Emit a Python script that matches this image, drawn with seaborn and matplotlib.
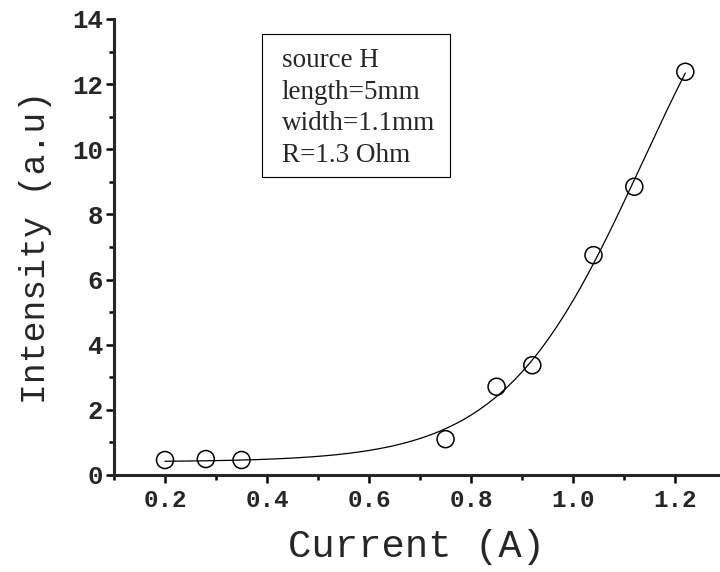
import numpy as np
import pandas as pd
import matplotlib
matplotlib.use("Agg")
import matplotlib.pyplot as plt
from matplotlib.patches import Rectangle
from matplotlib.ticker import MultipleLocator
import seaborn as sns

# Measured intensity vs. drive current
current = [0.20, 0.28, 0.35, 0.75, 0.85, 0.92, 1.04, 1.12, 1.22]
intensity = [0.46, 0.49, 0.46, 1.10, 2.71, 3.37, 6.75, 8.85, 12.38]

x_ticks = [0.2, 0.4, 0.6, 0.8, 1.0, 1.2]
y_ticks = [0, 2, 4, 6, 8, 10, 12, 14]
info_lines = ["source H", "length=5mm", "width=1.1mm", "R=1.3 Ohm"]

sns.set_style("ticks")
plt.rcParams["font.family"] = ["Liberation Mono", "DejaVu Sans Mono"]

df = pd.DataFrame({"Current": current, "Intensity": intensity})

# Boltzmann (sigmoidal) fit: y = A2 + (A1 - A2) / (1 + exp((x - x0) / dx))
xa = np.asarray(current)
ya = np.asarray(intensity)
best = None
for x0 in np.linspace(0.8, 2.0, 241):
    for dx in np.linspace(0.04, 0.4, 181):
        s = 1.0 / (1.0 + np.exp((xa - x0) / dx))
        M = np.column_stack([s, 1.0 - s])
        coef, *_ = np.linalg.lstsq(M, ya, rcond=None)
        sse = np.sum((M @ coef - ya) ** 2)
        if best is None or sse < best[0]:
            best = (sse, x0, dx, coef)
_, x0_fit, dx_fit, (a1_fit, a2_fit) = best
x_fit = np.linspace(xa.min(), xa.max(), 300)
s_fit = 1.0 / (1.0 + np.exp((x_fit - x0_fit) / dx_fit))
fit_df = pd.DataFrame({"Current": x_fit,
                       "Intensity": a1_fit * s_fit + a2_fit * (1.0 - s_fit)})

fig = plt.figure(figsize=(7.2, 5.72), dpi=100)
ax = fig.add_axes([114 / 720, 1 - 475 / 572, 606 / 720, 456 / 572])

sns.lineplot(data=fit_df, x="Current", y="Intensity", color="black",
             linewidth=0.9, ax=ax)
sns.scatterplot(data=df, x="Current", y="Intensity", marker="o", s=150,
                facecolor="none", edgecolor="black", linewidth=1.1,
                zorder=3, ax=ax)

ax.set_xlim(0.1, 1.288)
ax.set_ylim(0, 14)
ax.set_xticks(x_ticks)
ax.set_yticks(y_ticks)
ax.xaxis.set_minor_locator(MultipleLocator(0.1))
ax.yaxis.set_minor_locator(MultipleLocator(1))
ax.set_xticklabels([f"{v:.1f}" for v in x_ticks], fontweight="bold", fontsize=17.5)
ax.set_yticklabels([str(v) for v in y_ticks], fontweight="bold", fontsize=18.5)

sns.despine(ax=ax)
for side in ("left", "bottom"):
    ax.spines[side].set_linewidth(2.2)
ax.tick_params(which="major", direction="out", length=6, width=1.8,
               color="black", pad=2)
ax.tick_params(which="minor", direction="out", length=3.5, width=1.8,
               color="black")
ax.tick_params(axis="x", which="major", pad=4)

ax.set_xlabel("Current (A)", fontsize=28, labelpad=12)
ax.set_ylabel("Intensity (a.u)", fontsize=25, labelpad=14)

# Source description box
x0, x1 = (262 - 114) / 606, (450 - 114) / 606
y0, y1 = (475 - 177) / 456, (475 - 34) / 456
ax.add_patch(Rectangle((x0, y0), x1 - x0, y1 - y0, transform=ax.transAxes,
                       fill=False, edgecolor="black", linewidth=0.8,
                       clip_on=False))
for i, line in enumerate(info_lines):
    ax.text((282 - 114) / 606, (475 - 67 - 31.7 * i) / 456, line,
            transform=ax.transAxes, ha="left", va="baseline",
            family="Liberation Serif", fontsize=19.5)

fig.savefig("out.png", dpi=100)
